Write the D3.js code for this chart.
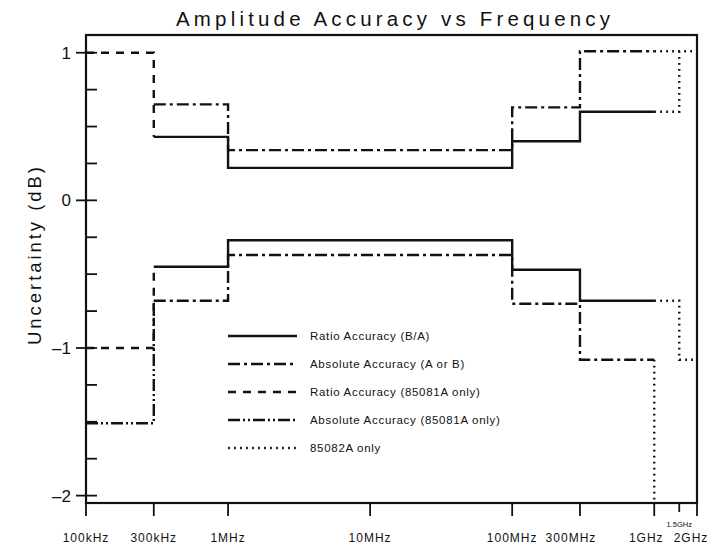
<!DOCTYPE html>
<html lang="en">
<head>
<meta charset="UTF-8">
<title>Amplitude Accuracy vs Frequency</title>
<script src="https://d3js.org/d3.v7.min.js"></script>
<style>
    body {
        margin: 0;
        background: #fff;
        font-family: "Liberation Sans", Arial, sans-serif;
    }
    svg { display: block; }
    .frame { fill: none; stroke: #111; stroke-width: 2.2; }
    .trace { fill: none; stroke: #111; stroke-width: 2.4; }
    .tick line { stroke: #111; stroke-width: 1.8; }
    text { fill: #111; }
</style>
</head>
<body>
<div class="viz"></div>
<script>
// step traces as [frequency Hz, dB] points, drawn with curveStepAfter
const ratioUpper = [[3e5, 0.43], [1e6, 0.22], [1e8, 0.40], [3e8, 0.60], [1e9, 0.60]];
const ratioLower = [[3e5, -0.45], [1e6, -0.27], [1e8, -0.47], [3e8, -0.68], [1e9, -0.68]];
const absUpper = [[3e5, 0.65], [1e6, 0.34], [1e8, 0.63], [3e8, 1.01], [1e9, 1.01]];
const absLower = [[3e5, -0.68], [1e6, -0.37], [1e8, -0.70], [3e8, -1.08], [1e9, -1.08]];
const ratio81Upper = [[1e5, 1.0], [3e5, 0.43]];
const ratio81Lower = [[1e5, -1.0], [3e5, -0.45]];
const abs81Lower = [[1e5, -1.51], [3e5, -0.68]];
const only82RatioUpper = [[1e9, 0.60], [1.5e9, 1.01]];
const only82RatioLower = [[1e9, -0.68], [1.5e9, -1.08], [2e9, -1.08]];
const only82AbsUpper = [[1e9, 1.01], [2e9, 1.01]];
const only82AbsLower = [[1e9, -1.08], [1e9, -2.2]];

const xTickValues = [1e5, 3e5, 1e6, 1e7, 1e8, 3e8, 1e9, 1.5e9, 2e9];
const xTickLabels = ["100kHz", "300kHz", "1MHz", "10MHz", "100MHz", "300MHz", "1GHz", "1.5GHz", "2GHz"];
const yMajorTicks = [1, 0, -1, -2];
const yMinorTicks = d3.range(-8, 5).map(i => i * 0.25);

const legendLabels = [
    "Ratio Accuracy (B/A)",
    "Absolute Accuracy (A or B)",
    "Ratio Accuracy (85081A only)",
    "Absolute Accuracy (85081A only)",
    "85082A only"
];

// line styles per legend entry
const dashes = ["none", "12,4,3,4", "8,7", "12,3,2,3,2,3", "1.8,4.2"];

const width = 716, height = 551;
const margin = { left: 86, right: 19, top: 35, bottom: 48 };

const svg = d3.select(".viz").append("svg")
    .attr("width", width)
    .attr("height", height);

const x = d3.scaleLog()
    .domain([1e5, 2e9])
    .range([margin.left, width - margin.right]);

const y = d3.scaleLinear()
    .domain([-2.05, 1.12])
    .range([height - margin.bottom, margin.top]);

svg.append("clipPath").attr("id", "plot-clip")
    .append("rect")
    .attr("x", x.range()[0])
    .attr("y", y.range()[1])
    .attr("width", x.range()[1] - x.range()[0])
    .attr("height", y.range()[0] - y.range()[1]);

// title
svg.append("text")
    .attr("x", 393)
    .attr("y", 26)
    .attr("text-anchor", "middle")
    .attr("font-size", 20.5)
    .attr("textLength", 434)
    .attr("lengthAdjust", "spacing")
    .text("Amplitude Accuracy vs Frequency");

// y axis label
svg.append("text")
    .attr("transform", "translate(41,256) rotate(-90)")
    .attr("text-anchor", "middle")
    .attr("font-size", 18.5)
    .attr("textLength", 178)
    .attr("lengthAdjust", "spacing")
    .text("Uncertainty (dB)");

// y ticks
const yAxis = svg.append("g").attr("class", "tick");
yAxis.selectAll(".minor")
    .data(yMinorTicks)
    .join("line")
    .attr("class", "minor")
    .attr("x1", x.range()[0])
    .attr("x2", x.range()[0] + 11)
    .attr("y1", d => y(d))
    .attr("y2", d => y(d));
yAxis.selectAll(".major")
    .data(yMajorTicks)
    .join("line")
    .attr("class", "major")
    .attr("x1", x.range()[0] - 10)
    .attr("x2", x.range()[0])
    .attr("y1", d => y(d))
    .attr("y2", d => y(d));
svg.selectAll(".ylab")
    .data(yMajorTicks)
    .join("text")
    .attr("class", "ylab")
    .attr("x", x.range()[0] - 15)
    .attr("y", d => y(d) + 6)
    .attr("text-anchor", "end")
    .attr("font-size", 17)
    .text(d => d < 0 ? "\u2013" + Math.abs(d) : d);

// x ticks
const labelNudge = { "300MHz": -9, "1GHz": -8, "2GHz": -6 };
const xAxis = svg.append("g").attr("class", "tick");
xAxis.selectAll("line")
    .data(xTickValues)
    .join("line")
    .attr("x1", d => x(d))
    .attr("x2", d => x(d))
    .attr("y1", y.range()[0])
    .attr("y2", d => y.range()[0] + (d === 1.5e9 ? 9 : 13));
svg.selectAll(".xlab")
    .data(xTickValues)
    .join("text")
    .attr("class", "xlab")
    .attr("x", (d, i) => x(d) + (labelNudge[xTickLabels[i]] || 0))
    .attr("y", d => d === 1.5e9 ? y.range()[0] + 24 : y.range()[0] + 39)
    .attr("text-anchor", "middle")
    .attr("font-size", d => d === 1.5e9 ? 7.5 : 12)
    .attr("letter-spacing", d => d === 1.5e9 ? 0 : 1)
    .text((d, i) => xTickLabels[i]);

// traces
const line = d3.line()
    .x(d => x(d[0]))
    .y(d => y(d[1]))
    .curve(d3.curveStepAfter);

const traces = [
    { data: ratioUpper, dash: dashes[0] },
    { data: ratioLower, dash: dashes[0] },
    { data: absUpper, dash: dashes[1] },
    { data: absLower, dash: dashes[1] },
    { data: ratio81Upper, dash: dashes[2] },
    { data: ratio81Lower, dash: dashes[2] },
    { data: abs81Lower, dash: dashes[3] },
    { data: only82RatioUpper, dash: dashes[4] },
    { data: only82RatioLower, dash: dashes[4] },
    { data: only82AbsUpper, dash: dashes[4] },
    { data: only82AbsLower, dash: dashes[4] }
];

svg.append("g")
    .attr("clip-path", "url(#plot-clip)")
    .selectAll("path")
    .data(traces)
    .join("path")
    .attr("class", "trace")
    .attr("stroke-dasharray", d => d.dash)
    .attr("d", d => line(d.data));

// frame
svg.append("rect")
    .attr("class", "frame")
    .attr("x", x.range()[0])
    .attr("y", y.range()[1])
    .attr("width", x.range()[1] - x.range()[0])
    .attr("height", y.range()[0] - y.range()[1]);

// legend
const legend = svg.append("g").attr("transform", "translate(228,336)");
const rows = legend.selectAll("g")
    .data(legendLabels)
    .join("g")
    .attr("transform", (d, i) => `translate(0,${i * 28})`);
rows.append("line")
    .attr("class", "trace")
    .attr("x1", 0)
    .attr("x2", 69)
    .attr("stroke-dasharray", (d, i) => dashes[i]);
rows.append("text")
    .attr("x", 82)
    .attr("y", 4)
    .attr("font-size", 11.5)
    .attr("letter-spacing", 0.7)
    .text(d => d);
</script>
</body>
</html>
